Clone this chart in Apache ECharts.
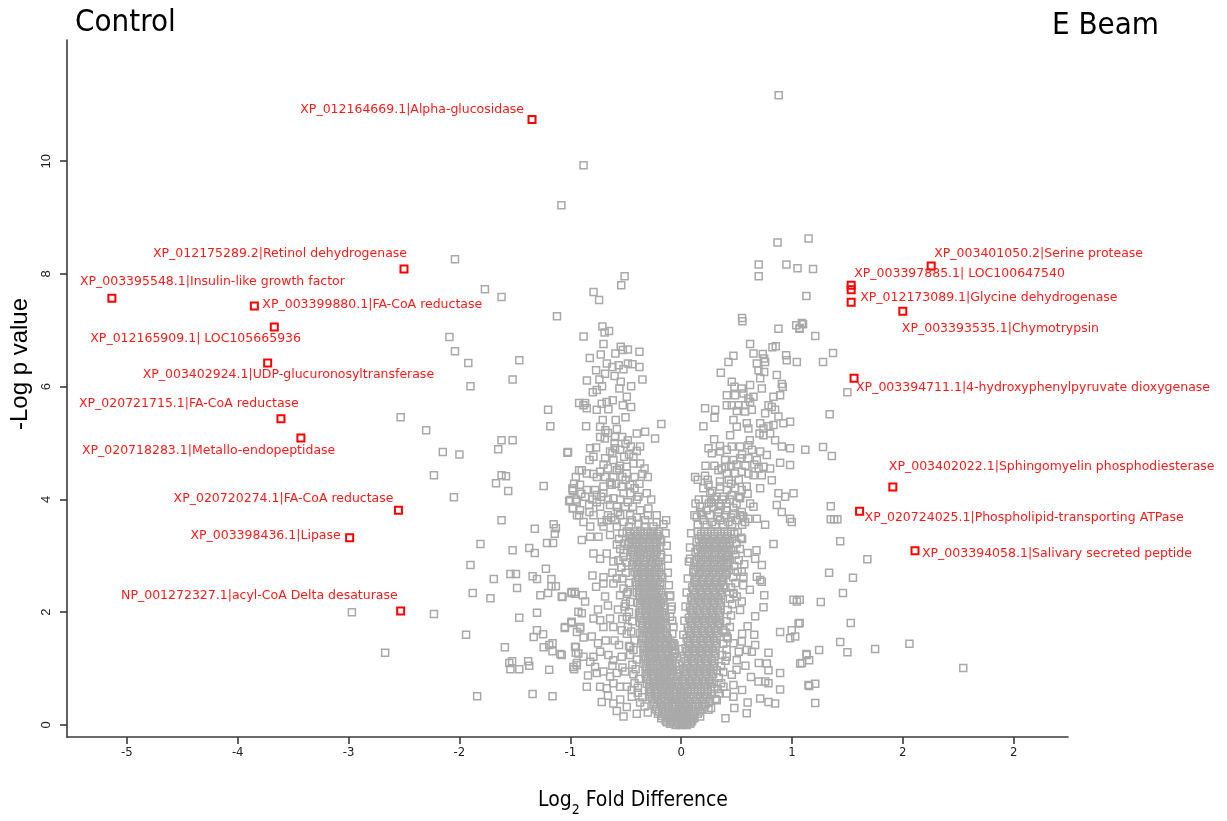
<!DOCTYPE html>
<html>
<head>
<meta charset="utf-8">
<script src="https://cdn.jsdelivr.net/npm/echarts@6/dist/echarts.min.js"></script>
<style>
html,body{margin:0;padding:0;background:#fff;}
#chart{width:1227px;height:821px;}
</style>
</head>
<body>
<div id="chart"></div>
<script>
// ---------------- DATA ----------------
const xTickValues = [-5, -4, -3, -2, -1, 0, 1, 2, 3];
const xTickLabels = ['-5', '-4', '-3', '-2', '-1', '0', '1', '2', '2'];
const yTickValues = [0, 2, 4, 6, 8, 10];
const yTickLabels = ['0', '2', '4', '6', '8', '10'];

const redNames = [
  'XP_012164669.1|Alpha-glucosidase',
  'XP_012175289.2|Retinol dehydrogenase',
  'XP_003395548.1|Insulin-like growth factor',
  'XP_003399880.1|FA-CoA reductase',
  'XP_012165909.1| LOC105665936',
  'XP_003402924.1|UDP-glucuronosyltransferase',
  'XP_020721715.1|FA-CoA reductase',
  'XP_020718283.1|Metallo-endopeptidase',
  'XP_020720274.1|FA-CoA reductase',
  'XP_003398436.1|Lipase',
  'NP_001272327.1|acyl-CoA Delta desaturase',
  'XP_003401050.2|Serine protease',
  'XP_003397885.1| LOC100647540',
  '',
  'XP_012173089.1|Glycine dehydrogenase',
  'XP_003393535.1|Chymotrypsin',
  'XP_003394711.1|4-hydroxyphenylpyruvate dioxygenase',
  'XP_003402022.1|Sphingomyelin phosphodiesterase',
  'XP_020724025.1|Phospholipid-transporting ATPase',
  'XP_003394058.1|Salivary secreted peptide'
];
const redX = [-1.345, -2.50, -5.135, -3.85, -3.67, -3.73, -3.61, -3.43, -2.55, -2.99, -2.53,
              2.256, 1.534, 1.534, 1.534, 2.00, 1.56, 1.91, 1.61, 2.11];
const redY = [10.74, 8.09, 7.57, 7.43, 7.06, 6.42, 5.43, 5.09, 3.81, 3.32, 2.02,
              8.14, 7.80, 7.72, 7.50, 7.34, 6.15, 4.22, 3.79, 3.09];

// scattered grey proteins [log2FC, -log p]
const grayOuter = [
  [0.88,11.17],[-0.88,9.93],[-1.08,9.22],[-2.04,8.26],[-1.77,7.73],[-1.62,7.59],[-1.12,7.25],
  [0.87,8.56],[1.15,8.63],[0.70,8.17],[0.95,8.17],[1.05,8.10],[0.70,7.96],[-0.51,7.96],[-0.54,7.80],
  [-0.79,7.68],[-0.74,7.54],[1.13,7.61],[0.55,7.22],
  [-2.09,6.88],[-2.04,6.63],[-1.92,6.42],[-1.46,6.47],[-1.52,6.13],[-1.90,6.01],[-2.53,5.46],[-2.30,5.23],
  [-1.20,5.59],[-1.18,5.30],[-1.62,5.05],[-1.52,5.05],[-1.65,4.89],[-2.15,4.84],[-2.00,4.80],[-1.02,4.84],
  [-2.23,4.43],[-1.62,4.43],[-1.58,4.41],[-0.92,4.52],[-0.92,5.71],
  [-2.05,4.04],[-1.67,4.29],[-1.56,4.15],[-1.24,4.24],[-0.98,4.20],[-0.975,4.15],[-1.01,3.97],[-0.975,3.85],
  [-0.94,3.72],[-1.62,3.63],[-1.32,3.48],[-1.15,3.56],[-1.13,3.49],[-1.14,3.39],[-1.81,3.21],[-1.52,3.10],
  [-1.37,3.14],[-1.32,3.05],[-1.21,3.23],[-1.155,3.23],[-1.90,2.84],[-1.69,2.59],[-1.54,2.68],[-1.49,2.68],
  [-1.34,2.64],[-1.30,2.59],[-1.22,2.77],[-1.17,2.59],[-1.17,2.46],[-1.13,2.46],[-1.48,2.43],[-1.88,2.34],
  [-1.72,2.25],[-1.27,2.30],[-1.20,2.34],[-1.07,2.27],[-0.99,2.34],[-0.96,2.36],[-2.97,2.00],[-2.23,1.97],
  [-1.46,1.90],[-1.30,1.99],[-1.94,1.60],[-2.67,1.28],[-1.59,1.38],[-1.30,1.68],[-1.33,1.56],[-1.245,1.61],
  [-1.05,1.72],[-0.99,1.81],[-1.24,1.38],[-1.19,1.42],[-1.16,1.45],[-1.16,1.31],[-1.09,1.26],[-1.55,1.10],
  [-1.525,1.13],[-1.54,0.99],[-1.46,0.99],[-1.38,1.13],[-1.37,1.05],[-1.19,0.98],[-0.95,1.38],[-0.95,1.28],
  [-0.94,1.10],[-0.965,0.99],[-1.84,0.51],[-1.34,0.55],[-1.16,0.51],[-0.94,1.65],[-0.91,1.74],
  [1.19,8.09],[1.10,7.11],[1.07,7.04],[1.21,6.90],[1.37,6.60],[1.28,6.44],[1.50,5.90],[1.34,5.51],
  [1.12,4.88],[1.28,4.93],[1.36,4.77],
  [1.35,3.88],[1.35,3.65],[1.38,3.65],[1.41,3.65],[1.435,3.26],[1.68,2.94],[1.335,2.70],[1.55,2.61],
  [1.46,2.34],[1.26,2.18],[1.07,2.22],[1.53,1.81],[1.07,1.81],[1.435,1.47],[1.50,1.29],[1.245,1.33],
  [1.13,1.26],[1.155,1.15],[1.09,1.10],[1.75,1.35],[2.06,1.44],[2.545,1.01],[1.155,0.69],[1.21,0.73],[1.21,0.39]
];

// left (control-enriched) central cluster
const grayLeftCluster = [
  [-0.71,7.07],[-0.69,6.96],[-0.65,6.99],[-0.88,6.89],[-0.70,6.76],[-0.545,6.71],[-0.593,6.59],[-0.526,6.65],
  [-0.48,6.66],[-0.376,6.62],[-0.725,6.57],[-0.824,6.51],[-0.67,6.41],[-0.62,6.35],[-0.563,6.38],[-0.52,6.31],
  [-0.48,6.41],[-0.44,6.40],[-0.376,6.35],[-0.767,6.29],[-0.686,6.23],[-0.85,6.11],[-0.737,6.13],[-0.60,6.19],
  [-0.545,6.09],[-0.713,6.01],[-0.761,5.94],[-0.797,5.90],[-0.349,6.13],[-0.451,6.01],[-0.557,5.97],[-0.49,5.82],
  [-0.526,5.67],[-0.617,5.76],[-0.671,5.73],[-0.716,5.70],[-0.866,5.71],[-0.881,5.67],[-0.851,5.62],[-0.761,5.59],
  [-0.656,5.60],[-0.451,5.64],[-0.707,5.41],[-0.59,5.41],[-0.502,5.46],[-0.857,5.30],[-0.731,5.29],[-0.683,5.23],
  [-0.731,5.11],[-0.689,5.08],[-0.596,5.11],[-0.532,5.11],[-0.481,5.05],[-0.40,5.17],[-0.325,5.20],[-0.235,5.08],
  [-0.178,5.34],[-1.026,4.83],[-0.821,4.91],[-0.767,4.92],[-0.641,4.85],[-0.596,4.91],[-0.502,4.99],[-0.454,4.94],
  [-0.37,4.94],[-0.40,4.86],[-0.791,4.76],[-0.827,4.70],[-0.686,4.73],[-0.611,4.70],[-0.514,4.76],[-0.43,4.76],
  [-0.551,4.60],[-0.49,4.58],[-0.43,4.64],[-0.37,4.64],[-0.896,4.52],[-0.851,4.46],[-0.791,4.45],[-0.731,4.49],
  [-0.686,4.40],[-0.611,4.40],[-0.49,4.46],[-0.966,4.28],[-0.912,4.26],[-0.978,4.17],[-0.851,4.17],[-0.776,4.17],
  [-0.701,4.23],[-0.626,4.26],[-0.587,4.28],[-0.536,4.23],[-0.46,4.26],[-0.376,4.28],[-1.002,3.99],[-0.942,3.96],
  [-0.866,4.05],[-0.761,4.08],[-0.701,4.11],[-0.611,4.02],[-0.52,4.11],[-0.46,4.11],[-0.385,4.05],[-0.31,4.11],
  [-0.978,3.84],[-0.912,3.81],[-0.827,3.78],[-0.731,3.87],[-0.641,3.90],[-0.581,3.87],[-0.505,3.87],[-0.436,3.87],
  [-0.37,3.81],[-0.295,3.84],[-0.881,3.60],[-0.716,3.60],[-0.671,3.63],[-0.596,3.63],[-0.52,3.60],[-0.445,3.63],
  [-0.385,3.57],[-0.325,3.63],[-0.22,3.60],[-0.135,3.63],[-0.16,3.56],
  [-0.95,4.00],[-0.80,4.00],[-0.66,4.00],[-0.55,4.00],[-0.40,4.00],[-0.27,4.00],
  [-0.92,3.72],[-0.79,3.72],[-0.66,3.72],[-0.55,3.72],[-0.46,3.72],[-0.30,3.72],[-0.22,3.72],
  [-0.82,3.52],[-0.70,3.52],[-0.58,3.52],[-0.47,3.52],[-0.33,3.52],[-0.25,3.52],
  [-0.95,4.40],[-0.76,4.40],[-0.53,4.40],[-0.42,4.40],[-0.30,4.40],[-0.66,4.55],[-0.56,4.55],[-0.33,4.55],
  [-0.62,4.82],[-0.55,4.88],[-0.47,4.80],[-0.70,4.62],[-0.58,4.52],[-0.50,4.35],[-0.64,4.30],[-0.72,4.05],
  [-0.48,3.95],[-0.57,3.78],[-0.63,3.68],[-0.40,3.68],[-0.76,3.95],[-0.83,3.90],[-0.90,4.10],[-0.42,4.20],
  [-0.35,4.45],[-0.60,5.00],[-0.66,5.18],[-0.58,5.25]
];

// right (E Beam-enriched) central cluster
const grayRightCluster = [
  [0.553,7.16],[0.878,7.03],[1.038,7.09],[1.068,7.03],[1.089,7.13],[0.622,6.76],[0.653,6.59],[0.737,6.58],
  [0.824,6.70],[0.854,6.72],[0.472,6.55],[0.427,6.44],[0.358,6.25],[0.683,6.41],[0.749,6.50],[0.758,6.44],
  [0.947,6.56],[0.953,6.47],[1.044,6.44],[0.698,6.29],[0.749,6.26],[0.713,6.15],[0.863,6.21],[0.457,6.09],
  [0.481,6.00],[0.547,5.97],[0.622,6.03],[0.728,5.97],[0.908,6.05],[0.917,6.00],[0.412,5.85],[0.487,5.85],
  [0.562,5.88],[0.607,5.79],[0.653,5.82],[0.833,5.82],[0.893,5.85],[0.412,5.67],[0.457,5.67],[0.517,5.67],
  [0.577,5.67],[0.622,5.73],[0.788,5.67],[0.818,5.64],[0.216,5.62],[0.307,5.59],[0.301,5.45],[0.502,5.57],
  [0.577,5.56],[0.638,5.59],[0.758,5.53],[0.848,5.59],[0.201,5.30],[0.472,5.41],[0.502,5.29],[0.592,5.35],
  [0.607,5.26],[0.713,5.35],[0.743,5.26],[0.788,5.30],[0.833,5.32],[0.878,5.47],[0.923,5.35],[0.983,5.38],
  [0.707,5.17],[0.743,5.14],[0.803,5.17],[0.848,5.05],[0.908,4.94],[0.983,4.91],[0.298,5.07],[0.442,5.14],
  [0.247,4.91],[0.277,4.82],[0.352,4.85],[0.412,4.88],[0.457,4.94],[0.532,4.94],[0.607,4.96],[0.638,4.88],
  [0.713,4.85],[0.773,4.79],[0.893,4.65],[0.983,4.61],[0.397,4.70],[0.472,4.70],[0.532,4.73],[0.607,4.73],
  [0.683,4.70],[0.743,4.58],[0.803,4.55],[0.126,4.40],[0.216,4.42],[0.337,4.52],[0.367,4.55],[0.412,4.46],
  [0.487,4.46],[0.547,4.49],[0.607,4.46],[0.653,4.43],[0.728,4.43],[0.818,4.34],[0.878,4.11],[0.938,4.05],
  [1.014,4.11],[0.247,4.26],[0.352,4.23],[0.412,4.17],[0.487,4.20],[0.547,4.17],[0.592,4.23],[0.713,4.20],
  [0.262,4.11],[0.322,4.05],[0.382,4.05],[0.457,4.08],[0.532,4.02],[0.622,3.93],[0.653,3.87],[0.863,3.90],
  [0.908,3.78],[0.983,3.66],[0.998,3.60],[0.171,3.87],[0.231,3.81],[0.292,3.87],[0.337,3.78],[0.412,3.81],
  [0.472,3.75],[0.547,3.78],[0.607,3.66],[0.683,3.66],[0.141,3.69],[0.201,3.63],[0.277,3.60],[0.352,3.63],
  [0.427,3.60],[0.502,3.63],[0.577,3.60],[0.758,3.55],
  [0.16,4.00],[0.22,4.00],[0.30,4.00],[0.37,4.00],[0.44,4.00],
  [0.13,3.93],[0.25,3.93],[0.34,3.93],[0.41,3.93],[0.50,3.93],
  [0.12,3.72],[0.19,3.72],[0.26,3.72],[0.40,3.72],[0.53,3.72],
  [0.15,3.55],[0.23,3.55],[0.31,3.55],[0.38,3.55],[0.46,3.55],[0.55,3.55],
  [0.15,4.35],[0.24,4.35],[0.43,4.35],[0.52,4.35],[0.22,4.60],[0.30,4.60],[0.45,4.60],[0.58,4.60],
  [0.20,4.20],[0.28,4.15],[0.35,4.32],[0.45,4.28],[0.52,4.05],[0.60,4.10],[0.27,3.95],[0.36,3.88],
  [0.47,3.85],[0.18,3.78],[0.33,3.70],[0.45,3.68],[0.56,3.70],[0.40,4.58],[0.50,4.62],[0.55,4.80],
  [0.35,4.95],[0.62,5.05],[0.66,4.62],[0.70,4.55]
];

// lower flanks of the volcano
const grayLowerFlanks = [
  [-0.896,3.28],[-0.821,3.34],[-0.791,3.04],[-0.731,2.95],[-0.671,3.04],[-0.611,2.90],[-0.566,2.92],[-0.52,2.98],
  [-0.445,3.10],[-0.746,3.34],[-0.641,3.37],[-1.077,2.28],[-0.987,2.36],[-0.957,2.33],[-0.866,2.19],[-0.887,2.30],
  [-0.767,2.45],[-0.701,2.51],[-0.686,2.28],[-0.611,2.51],[-0.551,2.30],[-0.49,2.33],[-0.927,2.01],[-0.896,1.98],
  [-1.047,1.74],[-0.987,1.83],[-0.912,1.71],[-0.806,1.57],[-0.791,1.89],[-0.731,1.86],[-0.701,1.74],[-0.641,1.89],
  [-0.611,1.74],[-0.536,1.68],[-0.49,1.62],[-0.957,1.39],[-1.077,1.24],[-0.927,1.27],[-0.881,1.21],[-0.791,1.21],
  [-0.731,1.30],[-0.656,1.24],[-0.611,1.15],[-0.536,1.21],[-0.46,1.39],[-0.972,1.03],[-0.942,1.06],[-0.821,1.12],
  [-0.776,1.03],[-0.761,0.92],[-0.701,0.95],[-0.641,0.86],[-0.581,0.92],[-0.505,0.95],[-0.851,0.68],[-0.731,0.68],
  [-0.671,0.65],[-0.611,0.74],[-0.551,0.68],[-0.49,0.68],[-0.445,0.62],[-0.716,0.41],[-0.611,0.38],[-0.49,0.32],
  [-0.445,0.50],
  [-0.58,3.20],[-0.62,2.70],[-0.70,2.62],[-0.58,2.60],[-0.66,2.12],[-0.57,2.05],[-0.75,2.05],[-0.60,1.50],
  [-0.68,1.50],[-0.56,1.42],[-0.75,1.45],[-0.62,1.05],[-0.53,1.02],[-0.66,0.52],[-0.55,0.45],[-0.58,0.25],
  [-0.40,0.20],[-0.52,0.15],[-0.84,0.88],[-0.88,1.55],[-0.80,2.65],[-0.54,2.80],[-0.50,2.15],[-0.53,1.88],
  [0.833,3.21],[0.668,2.95],[0.728,2.84],[0.547,2.72],[0.562,2.63],[0.683,2.63],[0.713,2.57],[0.728,2.54],
  [0.472,2.33],[0.502,2.28],[0.547,2.19],[0.532,2.04],[0.743,2.09],[0.668,1.93],[1.014,2.22],[1.044,2.19],
  [0.893,1.65],[0.998,1.68],[1.059,1.80],[0.983,1.54],[1.029,1.57],[0.668,1.42],[0.592,1.33],[0.638,1.30],
  [0.788,1.28],[0.773,1.09],[0.788,0.97],[0.893,0.92],[0.698,0.77],[0.758,0.77],[0.788,0.74],[0.713,0.47],
  [0.788,0.41],[0.848,0.38],[0.893,0.63],[0.592,0.21],[0.472,0.71],[0.472,0.50],[1.074,1.09],[1.134,1.24],
  [1.149,0.71],[0.457,0.89],
  [0.081,2.95],[0.111,2.75],[0.412,2.98],[0.427,2.87],[0.472,3.10],[0.412,2.69],[0.352,1.80],[0.382,1.68],
  [0.412,1.57],[0.472,1.45],[0.547,1.48],[0.412,1.21],[0.502,1.15],[0.322,0.97],[0.382,0.68],[0.412,0.56],
  [0.322,0.44],[0.247,0.27],[0.171,0.15],
  [0.55,3.30],[0.60,3.05],[0.57,2.85],[0.62,2.40],[0.56,2.48],[0.60,1.75],[0.55,1.62],[0.66,1.60],
  [0.52,1.30],[0.58,1.05],[0.50,0.98],[0.63,0.85],[0.55,0.62],[0.60,0.40],[0.48,0.30],[0.40,0.12],
  [0.70,1.10],[0.75,2.30],[0.68,3.10],
  [-0.10,2.28],[-0.085,2.10],[-0.10,1.92],[-0.069,1.74],[-0.069,1.45],[-0.054,1.27]
];

// edges of the two dense arms
const grayArmEdges = [
  [-0.53,3.40],[-0.51,3.22],[-0.52,3.05],[-0.49,2.88],[-0.50,2.70],[-0.47,2.52],[-0.48,2.36],[-0.46,2.18],
  [-0.47,2.00],[-0.44,1.84],[-0.45,1.66],[-0.42,1.50],[-0.43,1.33],[-0.40,1.16],[-0.41,0.99],[-0.38,0.82],
  [-0.39,0.66],[-0.35,0.49],[-0.33,0.33],
  [-0.56,3.30],[-0.55,3.12],[-0.54,2.80],[-0.53,2.60],[-0.52,2.42],[-0.51,2.10],[-0.49,1.92],[-0.48,1.74],
  [-0.47,1.40],[-0.46,1.24],[-0.44,1.07],[-0.43,0.90],[-0.42,0.74],[-0.39,0.57],[-0.37,0.40],[-0.30,0.22],
  [-0.14,3.40],[-0.13,3.18],[-0.12,2.95],[-0.12,2.70],[-0.11,2.48],[-0.10,2.30],[-0.09,2.05],[-0.08,1.85],
  [-0.08,1.62],[-0.06,1.42],[-0.04,1.20],[-0.02,0.98],
  [0.51,3.42],[0.50,3.22],[0.49,3.02],[0.48,2.82],[0.47,2.62],[0.45,2.44],[0.44,2.24],[0.42,2.04],
  [0.41,1.84],[0.40,1.64],[0.38,1.44],[0.37,1.24],[0.36,1.04],[0.34,0.84],[0.33,0.64],[0.31,0.46],[0.27,0.30],
  [0.54,3.32],[0.53,3.12],[0.52,2.92],[0.51,2.72],[0.49,2.52],[0.47,2.34],[0.46,2.14],[0.45,1.94],
  [0.44,1.74],[0.42,1.54],[0.41,1.34],[0.40,1.14],[0.38,0.94],[0.36,0.74],[0.34,0.56],
  [0.09,3.40],[0.08,3.15],[0.07,2.90],[0.06,2.60],[0.05,2.35],[0.04,2.10],[0.03,1.85],[0.02,1.60],[0.01,1.35]
];

// dense arms of the volcano, rows of [ -log p, [log2FC ...] ]
const leftArmRows = [
  [3.43, [-0.49,-0.42,-0.37,-0.30,-0.25,-0.20]], [3.39, [-0.46,-0.39,-0.34,-0.27,-0.22]],
  [3.35, [-0.46,-0.41,-0.33,-0.28,-0.21]],       [3.30, [-0.44,-0.37,-0.31,-0.24,-0.19]],
  [3.25, [-0.47,-0.40,-0.35,-0.29,-0.22,-0.18]], [3.20, [-0.48,-0.41,-0.35,-0.28,-0.22]],
  [3.16, [-0.44,-0.38,-0.32,-0.25,-0.19]],       [3.11, [-0.42,-0.36,-0.29,-0.23]],
  [3.07, [-0.45,-0.39,-0.34,-0.27,-0.22]],       [3.02, [-0.43,-0.37,-0.30,-0.24,-0.18]],
  [2.98, [-0.42,-0.37,-0.31,-0.25,-0.19]],       [2.93, [-0.40,-0.34,-0.28,-0.23]],
  [2.89, [-0.43,-0.38,-0.32,-0.26,-0.21]],       [2.84, [-0.44,-0.39,-0.33,-0.27,-0.20]],
  [2.80, [-0.41,-0.35,-0.30,-0.23,-0.18]],       [2.75, [-0.39,-0.33,-0.28,-0.22]],
  [2.71, [-0.42,-0.37,-0.31,-0.26,-0.20]],       [2.66, [-0.40,-0.35,-0.29,-0.24,-0.18]],
  [2.62, [-0.39,-0.34,-0.28,-0.23,-0.17]],       [2.57, [-0.38,-0.32,-0.27,-0.21]],
  [2.53, [-0.41,-0.35,-0.30,-0.25,-0.19]],       [2.48, [-0.40,-0.35,-0.29,-0.24,-0.19]],
  [2.44, [-0.38,-0.33,-0.27,-0.22]],             [2.39, [-0.37,-0.31,-0.26,-0.20]],
  [2.35, [-0.40,-0.34,-0.29,-0.24,-0.18]],       [2.30, [-0.38,-0.33,-0.28,-0.23,-0.17]],
  [2.26, [-0.37,-0.32,-0.26,-0.21,-0.16]],       [2.21, [-0.35,-0.30,-0.24,-0.19]],
  [2.17, [-0.39,-0.33,-0.29,-0.23,-0.18]],       [2.12, [-0.37,-0.32,-0.27,-0.21,-0.16]],
  [2.08, [-0.37,-0.31,-0.25,-0.20,-0.15]],       [2.03, [-0.35,-0.29,-0.24,-0.19]],
  [1.99, [-0.38,-0.32,-0.27,-0.22,-0.17]],       [1.94, [-0.37,-0.31,-0.26,-0.21,-0.15]],
  [1.90, [-0.36,-0.30,-0.24,-0.19,-0.14]],       [1.85, [-0.34,-0.28,-0.23,-0.18]],
  [1.81, [-0.37,-0.31,-0.26,-0.21,-0.16]],       [1.76, [-0.35,-0.30,-0.25,-0.20,-0.14]],
  [1.72, [-0.35,-0.29,-0.23,-0.18,-0.13]],       [1.67, [-0.33,-0.27,-0.22,-0.16]],
  [1.63, [-0.37,-0.31,-0.25,-0.20,-0.14]],       [1.58, [-0.35,-0.29,-0.24,-0.19,-0.13]],
  [1.54, [-0.34,-0.28,-0.23,-0.17,-0.12]],       [1.49, [-0.32,-0.26,-0.21,-0.15,-0.10]],
  [1.45, [-0.36,-0.30,-0.24,-0.19,-0.13,-0.08]], [1.40, [-0.34,-0.29,-0.24,-0.19,-0.14,-0.09]],
  [1.36, [-0.33,-0.27,-0.22,-0.17,-0.11]],       [1.31, [-0.31,-0.25,-0.20,-0.14,-0.08]],
  [1.27, [-0.34,-0.29,-0.23,-0.18,-0.12,-0.06]], [1.22, [-0.33,-0.28,-0.23,-0.17,-0.12,-0.07]],
  [1.18, [-0.32,-0.26,-0.21,-0.15,-0.10]],       [1.13, [-0.30,-0.24,-0.19,-0.13,-0.08]],
  [1.09, [-0.34,-0.28,-0.22,-0.16,-0.11,-0.05]], [1.04, [-0.32,-0.27,-0.21,-0.16,-0.10,-0.05]],
  [1.00, [-0.31,-0.25,-0.19,-0.14,-0.08]],       [0.95, [-0.29,-0.23,-0.18,-0.12,-0.07]],
  [0.91, [-0.32,-0.27,-0.21,-0.16,-0.10,-0.04]], [0.86, [-0.31,-0.25,-0.20,-0.15,-0.09,-0.03]],
  [0.82, [-0.30,-0.24,-0.18,-0.13,-0.07]],       [0.77, [-0.28,-0.22,-0.16,-0.11,-0.05]],
  [0.73, [-0.31,-0.25,-0.20,-0.14,-0.09,-0.03]], [0.68, [-0.29,-0.24,-0.19,-0.13,-0.08,-0.02]],
  [0.64, [-0.28,-0.22,-0.17,-0.11,-0.06]],       [0.59, [-0.27,-0.21,-0.15,-0.10,-0.04]],
  [0.55, [-0.29,-0.24,-0.18,-0.13,-0.07,-0.01]], [0.50, [-0.28,-0.22,-0.17,-0.11,-0.06,0.00]],
  [0.46, [-0.26,-0.21,-0.15,-0.09,-0.04]],       [0.41, [-0.24,-0.18,-0.12,-0.07,-0.01]],
  [0.37, [-0.25,-0.19,-0.14,-0.08,-0.02,0.03]],  [0.32, [-0.22,-0.16,-0.11,-0.05,0.01]],
  [0.28, [-0.23,-0.17,-0.12,-0.06,-0.01]],       [0.24, [-0.20,-0.14,-0.08,-0.03,0.03]],
  [0.20, [-0.21,-0.16,-0.10,-0.04,0.02]],        [0.16, [-0.17,-0.11,-0.05,0.00,0.05]],
  [0.12, [-0.18,-0.12,-0.07,-0.02,0.04]],        [0.08, [-0.14,-0.09,-0.04,0.01,0.06]],
  [0.05, [-0.13,-0.08,-0.03,0.02]],              [0.02, [-0.10,-0.02,0.03,0.08]],
  [0.00, [-0.05,0.00,0.05]]
];
const rightArmRows = [
  [3.43, [0.15,0.21,0.27,0.33,0.39,0.45]], [3.39, [0.18,0.24,0.30,0.36,0.42,0.48]],
  [3.35, [0.18,0.24,0.30,0.36,0.42]],      [3.30, [0.16,0.22,0.28,0.34,0.40,0.46]],
  [3.25, [0.14,0.20,0.26,0.32,0.38,0.44]], [3.20, [0.19,0.25,0.31,0.37,0.43]],
  [3.16, [0.17,0.23,0.29,0.35,0.41]],      [3.11, [0.15,0.21,0.27,0.33,0.39,0.45]],
  [3.07, [0.13,0.19,0.25,0.31,0.37,0.43]], [3.02, [0.18,0.24,0.30,0.36,0.42]],
  [2.98, [0.16,0.22,0.28,0.34,0.40]],      [2.93, [0.14,0.20,0.26,0.32,0.38,0.44]],
  [2.89, [0.12,0.18,0.24,0.30,0.36,0.42]], [2.84, [0.17,0.23,0.29,0.35,0.41]],
  [2.80, [0.15,0.21,0.27,0.33,0.39]],      [2.75, [0.13,0.19,0.25,0.31,0.37,0.43]],
  [2.71, [0.11,0.17,0.23,0.29,0.35,0.41]], [2.66, [0.16,0.22,0.28,0.34,0.40]],
  [2.62, [0.14,0.20,0.26,0.32,0.38]],      [2.57, [0.13,0.19,0.25,0.31,0.37]],
  [2.53, [0.12,0.18,0.24,0.30,0.36]],      [2.48, [0.14,0.20,0.26,0.32,0.38]],
  [2.44, [0.10,0.16,0.22,0.28,0.34,0.40]], [2.39, [0.11,0.17,0.23,0.29,0.35]],
  [2.35, [0.13,0.19,0.25,0.31,0.37]],      [2.30, [0.12,0.18,0.24,0.30,0.36]],
  [2.26, [0.09,0.15,0.21,0.27,0.33]],      [2.21, [0.10,0.16,0.22,0.28,0.34]],
  [2.17, [0.12,0.18,0.24,0.30,0.36]],      [2.12, [0.11,0.17,0.23,0.29,0.35]],
  [2.08, [0.08,0.14,0.20,0.26,0.32]],      [2.03, [0.09,0.15,0.21,0.27,0.33]],
  [1.99, [0.11,0.17,0.23,0.29,0.35]],      [1.94, [0.10,0.16,0.22,0.28,0.34]],
  [1.90, [0.07,0.13,0.19,0.25,0.31]],      [1.85, [0.08,0.14,0.20,0.26,0.32]],
  [1.81, [0.10,0.16,0.22,0.28,0.34]],      [1.76, [0.09,0.15,0.21,0.27,0.33]],
  [1.72, [0.06,0.12,0.18,0.24,0.30]],      [1.67, [0.07,0.13,0.19,0.25,0.31]],
  [1.63, [0.09,0.15,0.21,0.27,0.33]],      [1.58, [0.08,0.14,0.20,0.26,0.32]],
  [1.54, [0.05,0.11,0.17,0.23,0.29]],      [1.49, [0.06,0.12,0.18,0.24,0.30]],
  [1.45, [0.08,0.14,0.20,0.26,0.32]],      [1.40, [0.07,0.13,0.19,0.25,0.31]],
  [1.36, [0.04,0.10,0.16,0.22,0.28]],      [1.31, [0.05,0.11,0.17,0.23,0.29]],
  [1.27, [0.07,0.13,0.19,0.25,0.31]],      [1.22, [0.06,0.12,0.18,0.24,0.30]],
  [1.18, [0.03,0.09,0.15,0.21,0.27]],      [1.13, [0.04,0.10,0.16,0.22,0.28]],
  [1.09, [0.06,0.12,0.18,0.24,0.30]],      [1.04, [0.05,0.11,0.17,0.23,0.29]],
  [1.00, [0.02,0.08,0.14,0.20,0.26]],      [0.95, [0.03,0.09,0.15,0.21,0.27]],
  [0.91, [0.05,0.11,0.17,0.23,0.29]],      [0.86, [0.04,0.10,0.16,0.22,0.28]],
  [0.82, [0.01,0.07,0.13,0.19,0.25]],      [0.77, [0.02,0.08,0.14,0.20,0.26]],
  [0.73, [0.04,0.10,0.16,0.22,0.28]],      [0.68, [0.03,0.09,0.15,0.21,0.27]],
  [0.64, [0.00,0.06,0.12,0.18,0.24,0.30]], [0.59, [0.01,0.06,0.12,0.18,0.24]],
  [0.55, [0.03,0.09,0.15,0.21,0.27]],      [0.50, [0.05,0.11,0.17,0.23]],
  [0.46, [0.02,0.08,0.14,0.20,0.26]],      [0.41, [0.01,0.07,0.13,0.19,0.25]],
  [0.37, [0.04,0.10,0.16,0.22]],           [0.32, [0.05,0.10,0.16,0.21]],
  [0.28, [0.02,0.07,0.13,0.19]],           [0.24, [0.01,0.06,0.12,0.17]],
  [0.20, [0.04,0.09,0.15]],                [0.16, [0.02,0.06,0.11]],
  [0.12, [0.03,0.08,0.12]],                [0.08, [0.01,0.04,0.10]],
  [0.05, [0.05,0.09]]
];

// ---------------- LAYOUT / STYLE ----------------
// label anchor relative to point centre (px) and alignment
const labelAnchors = [
  [-7,-9,'right'], [4,-14,'right'], [-31,-15,'left'], [9,0,'left'], [-183,13,'left'],
  [-124,13,'left'], [-201,-14,'left'], [-218,14,'left'], [-4,-10,'right'], [-8,-1,'right'],
  [-2,-14,'right'], [4,-11,'left'], [4,-10,'left'], [0,0,'left'], [10,-3,'left'],
  [0,19,'left'], [3,10,'left'], [-3,-19,'left'], [6,7,'left'], [8,4,'left']
];

const SYM = 7;
const NARROW = '"Liberation Sans Narrow", "DejaVu Sans Condensed", sans-serif';
const grayData = [].concat(grayOuter, grayLeftCluster, grayRightCluster, grayLowerFlanks, grayArmEdges);
leftArmRows.concat(rightArmRows).forEach(function (r) {
  r[1].forEach(function (x) { grayData.push([x, r[0]]); });
});

const redData = redX.map(function (x, i) {
  const a = labelAnchors[i];
  return {
    value: [x, redY[i]],
    name: redNames[i],
    label: {
      show: redNames[i] !== '',
      formatter: redNames[i],
      position: [a[0] + SYM / 2, a[1] + SYM / 2],
      align: a[2],
      verticalAlign: 'middle'
    }
  };
});

const chart = echarts.init(document.getElementById('chart'), null, { renderer: 'canvas' });
const axisColor = '#3a3a3a';
chart.setOption({
  animation: false,
  backgroundColor: '#ffffff',
  grid: { left: 67, right: 159, top: 40, bottom: 84, containLabel: false },
  xAxis: {
    type: 'value', min: -5.54, max: 3.49,
    splitLine: { show: false },
    axisLine: { onZero: false, lineStyle: { color: axisColor, width: 1.6 } },
    axisTick: { customValues: xTickValues, length: 7, lineStyle: { color: axisColor, width: 1.6 } },
    axisLabel: {
      customValues: xTickValues,
      formatter: function (v) { const i = xTickValues.indexOf(v); return i >= 0 ? xTickLabels[i] : ''; },
      margin: 9, color: '#222', fontSize: 13, fontFamily: NARROW
    }
  },
  yAxis: {
    type: 'value', min: -0.213, max: 12.15,
    splitLine: { show: false },
    axisLine: { onZero: false, lineStyle: { color: axisColor, width: 1.6 } },
    axisTick: { customValues: yTickValues, length: 7, lineStyle: { color: axisColor, width: 1.6 } },
    axisLabel: {
      customValues: yTickValues,
      formatter: function (v) { const i = yTickValues.indexOf(v); return i >= 0 ? yTickLabels[i] : ''; },
      rotate: 90, margin: 14, color: '#222', fontSize: 13, fontFamily: '"Liberation Sans", Arial, sans-serif'
    }
  },
  series: [
    {
      type: 'scatter', symbol: 'rect', symbolSize: SYM, data: grayData, silent: true,
      itemStyle: { color: 'rgba(0,0,0,0)', borderColor: '#a9a9a9', borderWidth: 1.5, opacity: 1 }
    },
    {
      type: 'scatter', symbol: 'rect', symbolSize: SYM, data: redData, silent: true, z: 5,
      itemStyle: { color: 'rgba(0,0,0,0)', borderColor: '#ff0000', borderWidth: 2, opacity: 1 },
      label: { color: '#ff1a1a', fontSize: 12.5, fontFamily: '"DejaVu Sans", Verdana, sans-serif' },
      labelLayout: { hideOverlap: false }
    }
  ],
  graphic: [
    { type: 'text', left: 75, top: 7, style: { text: 'Control', fill: '#000', fontSize: 31, fontFamily: NARROW } },
    { type: 'text', left: 1052, top: 10, style: { text: 'E Beam', fill: '#000', fontSize: 31, fontFamily: NARROW } },
    { type: 'text', x: 633, y: 801, style: {
        text: '{a|Log}{s|2}{a| Fold Difference}', align: 'center', verticalAlign: 'middle',
        textAlign: 'center', textVerticalAlign: 'middle', fill: '#000',
        rich: {
          a: { fontSize: 21, lineHeight: 32, verticalAlign: 'middle', fontFamily: NARROW, fill: '#000', color: '#000' },
          s: { fontSize: 14, lineHeight: 14, verticalAlign: 'bottom', fontFamily: NARROW, fill: '#000', color: '#000' }
        } } },
    { type: 'text', x: 20, y: 364, rotation: Math.PI / 2, style: {
        text: '-Log p value', align: 'center', verticalAlign: 'middle', textAlign: 'center', textVerticalAlign: 'middle',
        fill: '#000', fontSize: 24, fontFamily: '"Liberation Sans", Arial, sans-serif' } }
  ]
});
</script>
</body>
</html>
